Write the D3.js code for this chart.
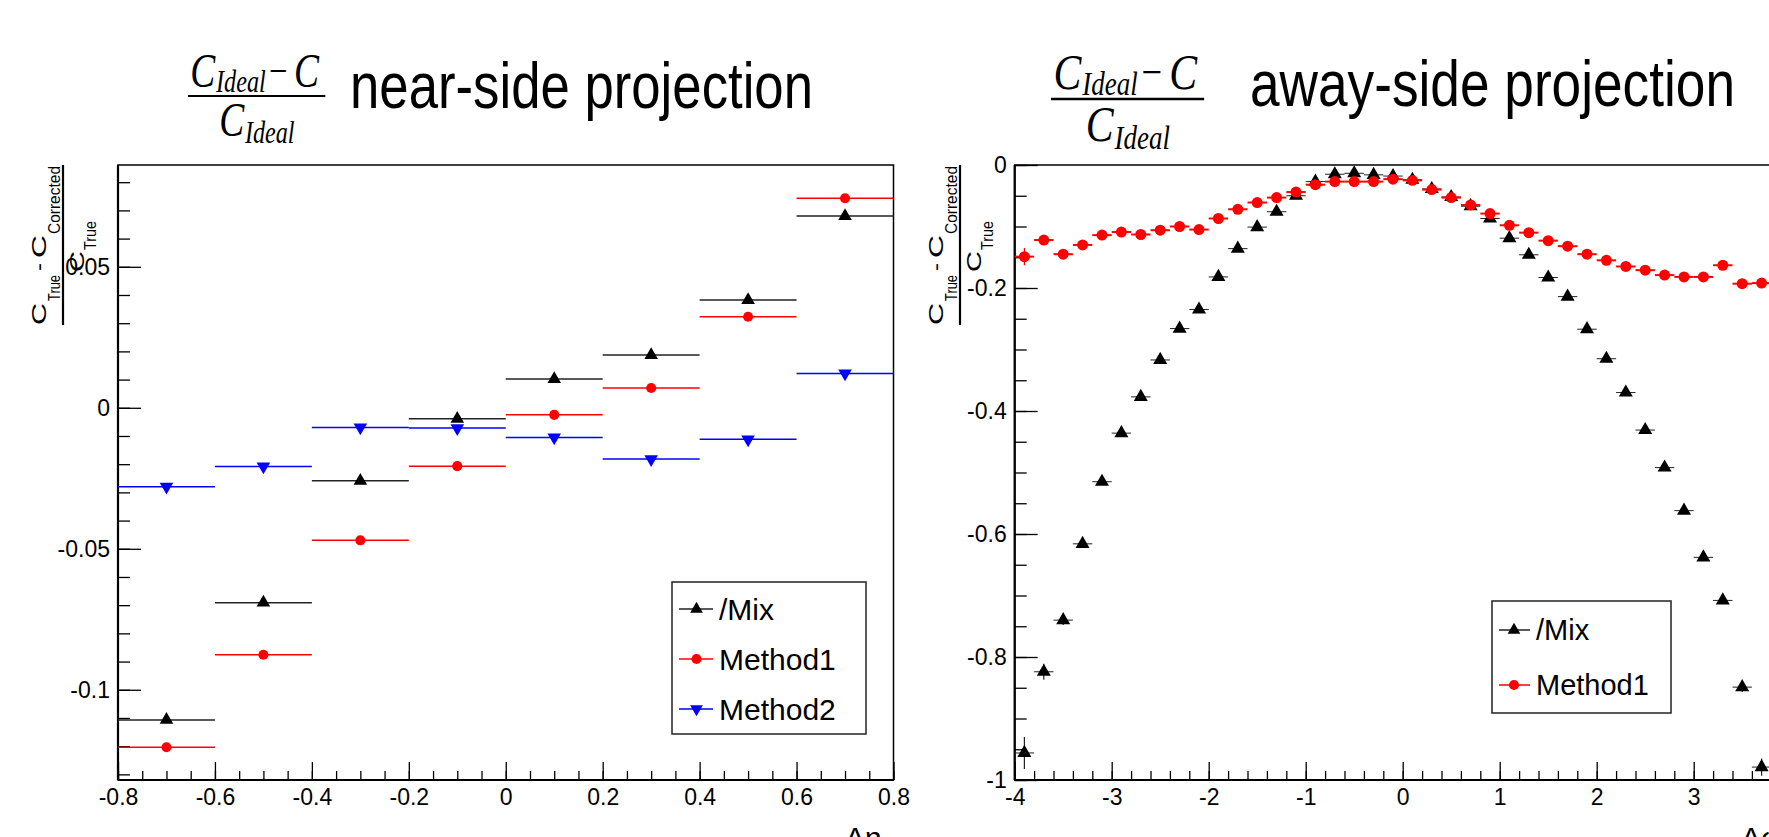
<!DOCTYPE html>
<html>
<head>
<meta charset="utf-8">
<script src="https://cdn.jsdelivr.net/npm/d3@7"></script>
<style>
  body { margin: 0; background: #fff; }
  text { font-family: "Liberation Sans", Arial, Helvetica, sans-serif; }
  text.serif { font-family: "Liberation Serif", "Times New Roman", serif; }
</style>
</head>
<body>
<div id="chart-area"></div>
<script>

// ---- data: near-side projection (bins of 0.2 in delta eta)
var nearBins = [-0.7, -0.5, -0.3, -0.1, 0.1, 0.3, 0.5, 0.7];
var nearMix     = [-0.1107, -0.0691, -0.0259, -0.0039, 0.0102, 0.0187, 0.0382, 0.0680];
var nearMethod1 = [-0.1204, -0.0876, -0.0470, -0.0207, -0.0025, 0.0070, 0.0323, 0.0743];
var nearMethod2 = [-0.0280, -0.0208, -0.0070, -0.0072, -0.0105, -0.0182, -0.0112, 0.0122];
var nearBinWidth = 0.2;

var nearXTicks = [-0.8, -0.6, -0.4, -0.2, 0, 0.2, 0.4, 0.6, 0.8];
var nearXLabels = ["-0.8", "-0.6", "-0.4", "-0.2", "0", "0.2", "0.4", "0.6", "0.8"];
var nearYTicks = [-0.1, -0.05, 0, 0.05];
var nearYLabels = ["-0.1", "-0.05", "0", "0.05"];

// ---- data: away-side projection (bins of 0.2 in delta phi)
var awayBins = [-3.9, -3.7, -3.5, -3.3, -3.1, -2.9, -2.7, -2.5, -2.3, -2.1,
                -1.9, -1.7, -1.5, -1.3, -1.1, -0.9, -0.7, -0.5, -0.3, -0.1,
                 0.1,  0.3,  0.5,  0.7,  0.9,  1.1,  1.3,  1.5,  1.7,  1.9,
                 2.1,  2.3,  2.5,  2.7,  2.9,  3.1,  3.3,  3.5,  3.7,  3.9];
var awayMix = [-0.956, -0.824, -0.740, -0.616, -0.515, -0.436, -0.377, -0.317, -0.266, -0.235,
               -0.182, -0.136, -0.101, -0.076, -0.050, -0.027, -0.015, -0.0135, -0.016, -0.018,
               -0.024, -0.039, -0.052, -0.067, -0.087, -0.119, -0.146, -0.183, -0.214, -0.267,
               -0.315, -0.370, -0.431, -0.492, -0.562, -0.638, -0.708, -0.849, -0.979, -1.0];
var awayMixErr = [0.026, 0.013, 0.008, 0.006, 0.005, 0.004, 0.004, 0.004, 0.004, 0.004,
                  0.004, 0.004, 0.004, 0.004, 0.004, 0.004, 0.004, 0.004, 0.004, 0.004,
                  0.004, 0.004, 0.004, 0.004, 0.004, 0.004, 0.004, 0.004, 0.004, 0.004,
                  0.004, 0.004, 0.004, 0.004, 0.005, 0.005, 0.006, 0.008, 0.014, 0.02];
var awayMethod1 = [-0.149, -0.122, -0.145, -0.130, -0.114, -0.109, -0.113, -0.106, -0.100, -0.105,
                   -0.087, -0.072, -0.061, -0.053, -0.044, -0.032, -0.027, -0.027, -0.027, -0.023,
                   -0.025, -0.040, -0.053, -0.065, -0.079, -0.098, -0.110, -0.123, -0.132, -0.145,
                   -0.155, -0.165, -0.171, -0.179, -0.182, -0.182, -0.163, -0.193, -0.192, -0.190];
var awayMethod1Err = [0.014, 0.006, 0.004, 0.003, 0.003, 0.003, 0.003, 0.003, 0.003, 0.003,
                      0.003, 0.003, 0.003, 0.003, 0.003, 0.003, 0.003, 0.003, 0.003, 0.003,
                      0.003, 0.003, 0.003, 0.003, 0.003, 0.003, 0.003, 0.003, 0.003, 0.003,
                      0.003, 0.003, 0.003, 0.003, 0.003, 0.003, 0.003, 0.004, 0.006, 0.01];
var awayBinWidth = 0.2;

var awayXTicks = [-4, -3, -2, -1, 0, 1, 2, 3, 4];
var awayXLabels = ["-4", "-3", "-2", "-1", "0", "1", "2", "3", "4"];
var awayYTicks = [-1, -0.8, -0.6, -0.4, -0.2, 0];
var awayYLabels = ["-1", "-0.8", "-0.6", "-0.4", "-0.2", "0"];

var legendNear = ["/Mix", "Method1", "Method2"];
var legendAway = ["/Mix", "Method1"];


// SVG drawing area
var width = 1769, height = 837;
var svg = d3.select("#chart-area").append("svg")
    .attr("width", width)
    .attr("height", height);

// Scales
var nearX = d3.scaleLinear().domain([-0.8, 0.8]).range([118, 893.5]);
var nearY = d3.scaleLinear().domain([-0.132, 0.0861]).range([780, 165]);
var awayX = d3.scaleLinear().domain([-4, 4]).range([1014.7, 1790.7]);
var awayY = d3.scaleLinear().domain([-1, 0]).range([780, 165]);

var styles = {
  mix:     {color: "#000", bar: "#222", shape: "up"},
  method1: {color: "#ff0000", bar: "#ff0000", shape: "circle"},
  method2: {color: "#0000ff", bar: "#0000ff", shape: "down"}
};

// axes + frame
function drawFrame(x, y, xTicks, xLabels, yTicks, yLabels, xMinor, yMinor) {
  var g = svg.append("g");
  var x0 = x.range()[0], x1 = x.range()[1];
  var y0 = y.range()[0], y1 = y.range()[1];

  g.append("rect")
    .attr("x", x0).attr("y", y1)
    .attr("width", x1 - x0).attr("height", y0 - y1)
    .attr("fill", "none").attr("stroke", "#000").attr("stroke-width", 1.5);

  g.append("g").attr("class", "axis x-axis")
    .attr("transform", "translate(0," + y0 + ")")
    .call(d3.axisBottom(x).tickValues(xTicks).tickSize(-18).tickPadding(9)
      .tickFormat(function(d, i) { return xLabels[i]; }));
  g.append("g").attr("transform", "translate(0," + y0 + ")")
    .call(d3.axisBottom(x).tickValues(xMinor).tickSize(-9).tickFormat(""));

  g.append("g").attr("class", "axis y-axis")
    .attr("transform", "translate(" + x0 + ",0)")
    .call(d3.axisLeft(y).tickValues(yTicks).tickSize(-23).tickPadding(8)
      .tickFormat(function(d, i) { return yLabels[i]; }));
  g.append("g").attr("transform", "translate(" + x0 + ",0)")
    .call(d3.axisLeft(y).tickValues(yMinor).tickSize(-12).tickFormat(""));

  g.selectAll(".domain").remove();
  g.selectAll(".tick line").attr("stroke", "#000").attr("stroke-width", 1.3);
  g.selectAll(".tick text").attr("fill", "#000")
    .style("font-size", "23px").style("font-family", "'Liberation Sans', Arial, sans-serif");

  g.append("line").attr("x1", x0).attr("x2", x1).attr("y1", y0).attr("y2", y0)
    .attr("stroke", "#000").attr("stroke-width", 2.2);
  g.append("line").attr("x1", x0).attr("x2", x0).attr("y1", y0).attr("y2", y1)
    .attr("stroke", "#000").attr("stroke-width", 2.2);
}

function drawSeries(x, y, bins, values, errs, binW, st, size, barWidth) {
  var g = svg.append("g");
  var rows = bins.map(function(b, i) { return {x: b, v: values[i], e: errs ? errs[i] : 0}; });

  g.selectAll("line.xerr").data(rows).enter().append("line")
    .attr("class", "xerr")
    .attr("x1", function(d) { return x(d.x - binW / 2); })
    .attr("x2", function(d) { return x(d.x + binW / 2); })
    .attr("y1", function(d) { return y(d.v); })
    .attr("y2", function(d) { return y(d.v); })
    .attr("stroke", st.bar).attr("stroke-width", barWidth);

  g.selectAll("line.yerr").data(rows.filter(function(d) { return d.e > 0; })).enter().append("line")
    .attr("class", "yerr")
    .attr("x1", function(d) { return x(d.x); })
    .attr("x2", function(d) { return x(d.x); })
    .attr("y1", function(d) { return y(d.v - d.e); })
    .attr("y2", function(d) { return y(d.v + d.e); })
    .attr("stroke", st.bar).attr("stroke-width", 1.2);

  var sym = st.shape === "circle" ? d3.symbolCircle : d3.symbolTriangle;
  g.selectAll("path.pt").data(rows).enter().append("path")
    .attr("class", "pt")
    .attr("d", d3.symbol().type(sym).size(size)())
    .attr("fill", st.color)
    .attr("transform", function(d) {
      var t = "translate(" + x(d.x) + "," + y(d.v) + ")";
      return st.shape === "down" ? t + " rotate(180)" : t;
    });
}

function drawLegend(box, rowYs, names, keys, fontSize, lineX, markX, textX) {
  var g = svg.append("g");
  g.append("rect")
    .attr("x", box[0]).attr("y", box[1])
    .attr("width", box[2] - box[0]).attr("height", box[3] - box[1])
    .attr("fill", "#fff").attr("stroke", "#222").attr("stroke-width", 1.5);
  names.forEach(function(name, i) {
    var st = styles[keys[i]];
    var yy = rowYs[i];
    g.append("line").attr("x1", lineX[0]).attr("x2", lineX[1])
      .attr("y1", yy).attr("y2", yy).attr("stroke", st.bar).attr("stroke-width", 1.5);
    var sym = st.shape === "circle" ? d3.symbolCircle : d3.symbolTriangle;
    g.append("path")
      .attr("d", d3.symbol().type(sym).size(st.shape === "circle" ? 80 : 70)())
      .attr("fill", st.color)
      .attr("transform", "translate(" + markX + "," + yy + ")" + (st.shape === "down" ? " rotate(180)" : ""));
    g.append("text").attr("x", textX).attr("y", yy).attr("dy", "0.36em")
      .style("font-size", fontSize + "px").attr("fill", "#000").text(name);
  });
}

// title: (C_Ideal - C) / C_Ideal + caption
function drawTitle(lineX, lineY, sx, sy, caption, capX, capY, capLen) {
  var g = svg.append("g")
    .attr("transform", "translate(" + lineX + "," + lineY + ") scale(" + sx + "," + sy + ")");
  g.append("line").attr("x1", 0).attr("x2", 176).attr("y1", 0).attr("y2", 0)
    .attr("stroke", "#000").attr("stroke-width", 2.2);
  var parts = [
    ["C", 3, -9, 48, "italic"],
    ["Ideal", 36, -4, 31, "italic"],
    ["\u2212", 104, -11, 42, "normal"],
    ["C", 136, -9, 48, "italic"],
    ["C", 40, 40, 48, "italic"],
    ["Ideal", 73, 47, 31, "italic"]
  ];
  parts.forEach(function(p) {
    g.append("text").attr("class", "serif")
      .attr("x", p[1]).attr("y", p[2])
      .style("font-size", p[3] + "px").style("font-style", p[4])
      .attr("fill", "#000").text(p[0]);
  });

  svg.append("text").attr("x", capX).attr("y", capY)
    .style("font-size", "65px").attr("fill", "#000")
    .attr("textLength", capLen).attr("lengthAdjust", "spacingAndGlyphs")
    .text(caption);
}

// rotated y-axis label: (C_True - C_Corrected) / C_True
function drawYLabel(dx) {
  var g = svg.append("g").attr("transform", "translate(" + dx + ",0)");
  g.append("line").attr("x1", 63).attr("x2", 63).attr("y1", 165).attr("y2", 325)
    .attr("stroke", "#000").attr("stroke-width", 2.2);
  // pieces: text, baseline x, start y (bottom), length, font size
  var pieces = [
    ["C", 46, 325, 22, 21],
    ["True", 60, 301, 26, 16],
    ["-", 46, 271, 8, 21],
    ["C", 46, 258, 23, 21],
    ["Corrected", 60, 234, 68, 16],
    ["C", 84, 272, 21, 21],
    ["True", 96, 250, 29, 16]
  ];
  pieces.forEach(function(p) {
    g.append("text")
      .attr("transform", "translate(" + p[1] + "," + p[2] + ") rotate(-90)")
      .style("font-size", p[4] + "px")
      .attr("textLength", p[3]).attr("lengthAdjust", "spacingAndGlyphs")
      .text(p[0]);
  });
}

// ---- near-side panel
drawFrame(nearX, nearY, nearXTicks, nearXLabels, nearYTicks, nearYLabels,
  d3.range(-0.8, 0.8001, 0.05), d3.range(-0.13, 0.0801, 0.01));
drawSeries(nearX, nearY, nearBins, nearMix, null, nearBinWidth, styles.mix, 80, 1.5);
drawSeries(nearX, nearY, nearBins, nearMethod1, null, nearBinWidth, styles.method1, 80, 1.5);
drawSeries(nearX, nearY, nearBins, nearMethod2, null, nearBinWidth, styles.method2, 80, 1.5);
drawLegend([672, 582, 866, 734], [609, 659, 709], legendNear, ["mix", "method1", "method2"],
  30, [679, 713], 696.5, 719);

// ---- away-side panel
drawFrame(awayX, awayY, awayXTicks, awayXLabels, awayYTicks, awayYLabels,
  d3.range(-4, 4.001, 0.2), d3.range(-1, 0.001, 0.05));
drawSeries(awayX, awayY, awayBins, awayMix, awayMixErr, awayBinWidth, styles.mix, 85, 1);
drawSeries(awayX, awayY, awayBins, awayMethod1, awayMethod1Err, awayBinWidth, styles.method1, 95, 2);
drawLegend([1492, 601, 1671, 713], [630, 685], legendAway, ["mix", "method1"],
  29, [1499, 1530], 1514, 1536);

// ---- titles and axis labels
drawTitle(188, 96, 0.78, 1, "near-side projection", 350, 108, 463);
drawTitle(1051, 99, 0.87, 1.06, "away-side projection", 1250, 106, 485);
drawYLabel(0);
drawYLabel(897);

svg.append("text").attr("x", 845).attr("y", 848).style("font-size", "30px").text("\u0394\u03b7");
svg.append("text").attr("x", 1741).attr("y", 848).style("font-size", "30px").text("\u0394\u03c6");

</script>
</body>
</html>
